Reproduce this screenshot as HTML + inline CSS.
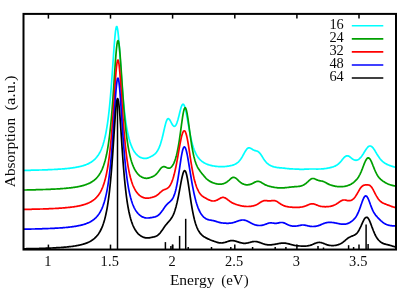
<!DOCTYPE html>
<html><head><meta charset="utf-8"><title>Absorption</title>
<style>html,body{margin:0;padding:0;background:#fff;}svg{display:block;}</style></head>
<body>
<svg width="415" height="291" viewBox="0 0 415 291">
<rect width="415" height="291" fill="#fff"/>
<clipPath id="c"><rect x="24" y="13" width="373" height="237"/></clipPath>
<g clip-path="url(#c)" fill="none" stroke-width="1.7" stroke-linejoin="round">
<path d="M24.0,170.4 L24.5,170.4 L25.0,170.4 L25.5,170.4 L26.0,170.3 L26.5,170.3 L27.0,170.3 L27.5,170.3 L28.0,170.3 L28.5,170.3 L29.0,170.3 L29.5,170.3 L30.0,170.3 L30.5,170.3 L31.0,170.2 L31.5,170.2 L32.0,170.2 L32.5,170.2 L33.0,170.2 L33.5,170.2 L34.0,170.2 L34.5,170.2 L35.0,170.2 L35.5,170.1 L36.0,170.1 L36.5,170.1 L37.0,170.1 L37.5,170.1 L38.0,170.1 L38.5,170.1 L39.0,170.0 L39.5,170.0 L40.0,170.0 L40.5,170.0 L41.0,170.0 L41.5,170.0 L42.0,170.0 L42.5,169.9 L43.0,169.9 L43.5,169.9 L44.0,169.9 L44.5,169.9 L45.0,169.9 L45.5,169.8 L46.0,169.8 L46.5,169.8 L47.0,169.8 L47.5,169.8 L48.0,169.7 L48.5,169.7 L49.0,169.7 L49.5,169.7 L50.0,169.7 L50.5,169.6 L51.0,169.6 L51.5,169.6 L52.0,169.6 L52.5,169.5 L53.0,169.5 L53.5,169.5 L54.0,169.5 L54.5,169.4 L55.0,169.4 L55.5,169.4 L56.0,169.4 L56.5,169.3 L57.0,169.3 L57.5,169.3 L58.0,169.2 L58.5,169.2 L59.0,169.2 L59.5,169.1 L60.0,169.1 L60.5,169.1 L61.0,169.0 L61.5,169.0 L62.0,169.0 L62.5,168.9 L63.0,168.9 L63.5,168.8 L64.0,168.8 L64.5,168.8 L65.0,168.7 L65.5,168.7 L66.0,168.6 L66.5,168.6 L67.0,168.5 L67.5,168.5 L68.0,168.4 L68.5,168.4 L69.0,168.3 L69.5,168.3 L70.0,168.2 L70.5,168.1 L71.0,168.1 L71.5,168.0 L72.0,167.9 L72.5,167.9 L73.0,167.8 L73.5,167.7 L74.0,167.7 L74.5,167.6 L75.0,167.5 L75.5,167.4 L76.0,167.3 L76.5,167.2 L77.0,167.1 L77.5,167.0 L78.0,166.9 L78.5,166.8 L79.0,166.7 L79.5,166.6 L80.0,166.5 L80.5,166.4 L81.0,166.3 L81.5,166.1 L82.0,166.0 L82.5,165.9 L83.0,165.7 L83.5,165.6 L84.0,165.4 L84.5,165.2 L85.0,165.1 L85.5,164.9 L86.0,164.7 L86.5,164.5 L87.0,164.3 L87.5,164.1 L88.0,163.9 L88.5,163.6 L89.0,163.4 L89.5,163.1 L90.0,162.8 L90.5,162.5 L91.0,162.2 L91.5,161.9 L92.0,161.6 L92.5,161.2 L93.0,160.8 L93.5,160.4 L94.0,160.0 L94.5,159.5 L95.0,159.1 L95.5,158.5 L96.0,158.0 L96.5,157.4 L97.0,156.8 L97.5,156.1 L98.0,155.4 L98.5,154.7 L99.0,153.9 L99.5,153.0 L100.0,152.1 L100.5,151.1 L101.0,150.0 L101.5,148.8 L102.0,147.5 L102.5,146.2 L103.0,144.7 L103.5,143.0 L104.0,141.3 L104.5,139.4 L105.0,137.3 L105.5,135.0 L106.0,132.5 L106.5,129.7 L107.0,126.7 L107.5,123.5 L108.0,119.8 L108.5,115.9 L109.0,111.6 L109.5,106.9 L110.0,101.7 L110.5,96.1 L111.0,90.1 L111.5,83.7 L112.0,76.9 L112.5,69.8 L113.0,62.5 L113.5,55.3 L114.0,48.2 L114.5,41.7 L115.0,36.0 L115.5,31.4 L116.0,28.2 L116.5,26.6 L117.0,26.7 L117.5,28.6 L118.0,32.0 L118.5,36.9 L119.0,42.7 L119.5,49.3 L120.0,56.4 L120.5,63.6 L121.0,70.8 L121.5,77.8 L122.0,84.5 L122.5,90.8 L123.0,96.7 L123.5,102.1 L124.0,107.1 L124.5,111.7 L125.0,115.9 L125.5,119.7 L126.0,123.2 L126.5,126.4 L127.0,129.3 L127.5,131.9 L128.0,134.3 L128.5,136.5 L129.0,138.5 L129.5,140.3 L130.0,142.0 L130.5,143.5 L131.0,144.9 L131.5,146.2 L132.0,147.3 L132.5,148.4 L133.0,149.4 L133.5,150.3 L134.0,151.2 L134.5,151.9 L135.0,152.6 L135.5,153.3 L136.0,153.9 L136.5,154.4 L137.0,154.9 L137.5,155.4 L138.0,155.8 L138.5,156.2 L139.0,156.6 L139.5,156.9 L140.0,157.2 L140.5,157.4 L141.0,157.6 L141.5,157.8 L142.0,158.0 L142.5,158.1 L143.0,158.2 L143.5,158.3 L144.0,158.4 L144.5,158.4 L145.0,158.4 L145.5,158.4 L146.0,158.4 L146.5,158.3 L147.0,158.2 L147.5,158.1 L148.0,157.9 L148.5,157.7 L149.0,157.5 L149.5,157.3 L150.0,157.1 L150.5,156.8 L151.0,156.5 L151.5,156.3 L152.0,156.0 L152.5,155.7 L153.0,155.4 L153.5,155.1 L154.0,154.7 L154.5,154.3 L155.0,153.9 L155.5,153.4 L156.0,152.9 L156.5,152.3 L157.0,151.6 L157.5,150.8 L158.0,149.9 L158.5,149.0 L159.0,147.9 L159.5,146.7 L160.0,145.4 L160.5,143.9 L161.0,142.3 L161.5,140.6 L162.0,138.8 L162.5,136.8 L163.0,134.7 L163.5,132.5 L164.0,130.3 L164.5,128.1 L165.0,126.0 L165.5,124.1 L166.0,122.3 L166.5,120.9 L167.0,119.8 L167.5,119.0 L168.0,118.7 L168.5,118.7 L169.0,119.0 L169.5,119.5 L170.0,120.3 L170.5,121.2 L171.0,122.2 L171.5,123.1 L172.0,124.0 L172.5,124.9 L173.0,125.5 L173.5,126.0 L174.0,126.3 L174.5,126.3 L175.0,126.1 L175.5,125.6 L176.0,124.9 L176.5,123.9 L177.0,122.6 L177.5,121.1 L178.0,119.4 L178.5,117.5 L179.0,115.6 L179.5,113.5 L180.0,111.5 L180.5,109.6 L181.0,107.8 L181.5,106.3 L182.0,105.2 L182.5,104.5 L183.0,104.2 L183.5,104.4 L184.0,105.0 L184.5,106.1 L185.0,107.6 L185.5,109.6 L186.0,111.8 L186.5,114.3 L187.0,117.0 L187.5,119.8 L188.0,122.7 L188.5,125.6 L189.0,128.4 L189.5,131.1 L190.0,133.7 L190.5,136.2 L191.0,138.5 L191.5,140.6 L192.0,142.6 L192.5,144.5 L193.0,146.2 L193.5,147.8 L194.0,149.2 L194.5,150.5 L195.0,151.7 L195.5,152.8 L196.0,153.9 L196.5,154.8 L197.0,155.7 L197.5,156.4 L198.0,157.2 L198.5,157.9 L199.0,158.5 L199.5,159.1 L200.0,159.6 L200.5,160.1 L201.0,160.5 L201.5,161.0 L202.0,161.4 L202.5,161.7 L203.0,162.1 L203.5,162.4 L204.0,162.7 L204.5,163.0 L205.0,163.3 L205.5,163.5 L206.0,163.8 L206.5,164.0 L207.0,164.2 L207.5,164.4 L208.0,164.6 L208.5,164.7 L209.0,164.9 L209.5,165.0 L210.0,165.2 L210.5,165.3 L211.0,165.4 L211.5,165.6 L212.0,165.7 L212.5,165.8 L213.0,165.9 L213.5,166.0 L214.0,166.0 L214.5,166.1 L215.0,166.2 L215.5,166.3 L216.0,166.3 L216.5,166.4 L217.0,166.4 L217.5,166.5 L218.0,166.5 L218.5,166.6 L219.0,166.6 L219.5,166.6 L220.0,166.6 L220.5,166.6 L221.0,166.7 L221.5,166.7 L222.0,166.7 L222.5,166.7 L223.0,166.6 L223.5,166.6 L224.0,166.6 L224.5,166.6 L225.0,166.5 L225.5,166.5 L226.0,166.4 L226.5,166.4 L227.0,166.3 L227.5,166.2 L228.0,166.2 L228.5,166.1 L229.0,166.0 L229.5,165.9 L230.0,165.8 L230.5,165.7 L231.0,165.6 L231.5,165.5 L232.0,165.4 L232.5,165.2 L233.0,165.1 L233.5,164.9 L234.0,164.7 L234.5,164.5 L235.0,164.3 L235.5,164.0 L236.0,163.7 L236.5,163.4 L237.0,163.1 L237.5,162.7 L238.0,162.3 L238.5,161.8 L239.0,161.3 L239.5,160.7 L240.0,160.1 L240.5,159.5 L241.0,158.8 L241.5,158.0 L242.0,157.2 L242.5,156.3 L243.0,155.4 L243.5,154.5 L244.0,153.6 L244.5,152.7 L245.0,151.8 L245.5,151.0 L246.0,150.2 L246.5,149.5 L247.0,148.9 L247.5,148.4 L248.0,148.1 L248.5,147.9 L249.0,147.8 L249.5,147.9 L250.0,148.0 L250.5,148.2 L251.0,148.5 L251.5,148.8 L252.0,149.1 L252.5,149.4 L253.0,149.7 L253.5,150.0 L254.0,150.2 L254.5,150.4 L255.0,150.6 L255.5,150.7 L256.0,150.8 L256.5,151.0 L257.0,151.1 L257.5,151.3 L258.0,151.6 L258.5,151.9 L259.0,152.4 L259.5,152.9 L260.0,153.4 L260.5,154.1 L261.0,154.8 L261.5,155.5 L262.0,156.3 L262.5,157.1 L263.0,157.9 L263.5,158.7 L264.0,159.4 L264.5,160.2 L265.0,160.8 L265.5,161.5 L266.0,162.0 L266.5,162.6 L267.0,163.1 L267.5,163.5 L268.0,163.9 L268.5,164.3 L269.0,164.7 L269.5,165.0 L270.0,165.3 L270.5,165.6 L271.0,165.8 L271.5,166.0 L272.0,166.2 L272.5,166.4 L273.0,166.6 L273.5,166.7 L274.0,166.9 L274.5,167.0 L275.0,167.1 L275.5,167.2 L276.0,167.3 L276.5,167.4 L277.0,167.5 L277.5,167.6 L278.0,167.6 L278.5,167.7 L279.0,167.7 L279.5,167.8 L280.0,167.8 L280.5,167.8 L281.0,167.9 L281.5,167.9 L282.0,168.0 L282.5,168.0 L283.0,168.1 L283.5,168.1 L284.0,168.2 L284.5,168.2 L285.0,168.3 L285.5,168.4 L286.0,168.4 L286.5,168.5 L287.0,168.5 L287.5,168.6 L288.0,168.6 L288.5,168.7 L289.0,168.7 L289.5,168.8 L290.0,168.8 L290.5,168.8 L291.0,168.9 L291.5,168.9 L292.0,168.9 L292.5,168.9 L293.0,169.0 L293.5,169.0 L294.0,169.0 L294.5,169.0 L295.0,169.1 L295.5,169.1 L296.0,169.1 L296.5,169.1 L297.0,169.2 L297.5,169.2 L298.0,169.2 L298.5,169.2 L299.0,169.2 L299.5,169.3 L300.0,169.3 L300.5,169.3 L301.0,169.3 L301.5,169.3 L302.0,169.3 L302.5,169.3 L303.0,169.3 L303.5,169.3 L304.0,169.3 L304.5,169.2 L305.0,169.2 L305.5,169.2 L306.0,169.2 L306.5,169.2 L307.0,169.1 L307.5,169.1 L308.0,169.1 L308.5,169.1 L309.0,169.0 L309.5,169.0 L310.0,169.0 L310.5,169.0 L311.0,169.0 L311.5,169.0 L312.0,169.0 L312.5,169.0 L313.0,169.0 L313.5,169.0 L314.0,169.0 L314.5,169.0 L315.0,169.0 L315.5,169.0 L316.0,169.0 L316.5,169.1 L317.0,169.1 L317.5,169.1 L318.0,169.1 L318.5,169.0 L319.0,169.0 L319.5,169.0 L320.0,169.0 L320.5,169.0 L321.0,169.0 L321.5,168.9 L322.0,168.9 L322.5,168.9 L323.0,168.8 L323.5,168.8 L324.0,168.7 L324.5,168.7 L325.0,168.6 L325.5,168.5 L326.0,168.5 L326.5,168.4 L327.0,168.3 L327.5,168.2 L328.0,168.1 L328.5,168.0 L329.0,167.9 L329.5,167.8 L330.0,167.7 L330.5,167.6 L331.0,167.4 L331.5,167.3 L332.0,167.2 L332.5,167.0 L333.0,166.9 L333.5,166.7 L334.0,166.5 L334.5,166.3 L335.0,166.1 L335.5,165.9 L336.0,165.6 L336.5,165.3 L337.0,165.0 L337.5,164.6 L338.0,164.3 L338.5,163.9 L339.0,163.4 L339.5,162.9 L340.0,162.4 L340.5,161.9 L341.0,161.3 L341.5,160.7 L342.0,160.0 L342.5,159.4 L343.0,158.8 L343.5,158.2 L344.0,157.7 L344.5,157.2 L345.0,156.7 L345.5,156.4 L346.0,156.1 L346.5,155.9 L347.0,155.8 L347.5,155.8 L348.0,155.9 L348.5,156.1 L349.0,156.3 L349.5,156.6 L350.0,157.0 L350.5,157.4 L351.0,157.8 L351.5,158.2 L352.0,158.6 L352.5,159.0 L353.0,159.3 L353.5,159.6 L354.0,159.8 L354.5,160.0 L355.0,160.2 L355.5,160.2 L356.0,160.3 L356.5,160.2 L357.0,160.1 L357.5,160.0 L358.0,159.7 L358.5,159.5 L359.0,159.1 L359.5,158.7 L360.0,158.2 L360.5,157.7 L361.0,157.1 L361.5,156.5 L362.0,155.8 L362.5,155.0 L363.0,154.3 L363.5,153.5 L364.0,152.6 L364.5,151.8 L365.0,151.0 L365.5,150.2 L366.0,149.4 L366.5,148.7 L367.0,148.0 L367.5,147.5 L368.0,146.9 L368.5,146.5 L369.0,146.2 L369.5,146.0 L370.0,146.0 L370.5,146.0 L371.0,146.2 L371.5,146.5 L372.0,146.8 L372.5,147.3 L373.0,147.9 L373.5,148.5 L374.0,149.3 L374.5,150.0 L375.0,150.8 L375.5,151.7 L376.0,152.5 L376.5,153.4 L377.0,154.2 L377.5,155.0 L378.0,155.8 L378.5,156.6 L379.0,157.3 L379.5,158.0 L380.0,158.7 L380.5,159.3 L381.0,159.9 L381.5,160.4 L382.0,160.9 L382.5,161.4 L383.0,161.8 L383.5,162.2 L384.0,162.6 L384.5,162.9 L385.0,163.3 L385.5,163.6 L386.0,163.8 L386.5,164.1 L387.0,164.4 L387.5,164.6 L388.0,164.8 L388.5,165.0 L389.0,165.2 L389.5,165.4 L390.0,165.6 L390.5,165.8 L391.0,166.0 L391.5,166.1 L392.0,166.3 L392.5,166.4 L393.0,166.6 L393.5,166.7 L394.0,166.9 L394.5,167.0 L395.0,167.1 L395.5,167.3 L396.0,167.4 L396.5,167.5 L397.0,167.6" stroke="#00ffff"/>
<path d="M24.0,190.0 L24.5,190.0 L25.0,190.0 L25.5,190.0 L26.0,190.0 L26.5,190.0 L27.0,189.9 L27.5,189.9 L28.0,189.9 L28.5,189.9 L29.0,189.9 L29.5,189.9 L30.0,189.9 L30.5,189.9 L31.0,189.9 L31.5,189.9 L32.0,189.8 L32.5,189.8 L33.0,189.8 L33.5,189.8 L34.0,189.8 L34.5,189.8 L35.0,189.8 L35.5,189.8 L36.0,189.7 L36.5,189.7 L37.0,189.7 L37.5,189.7 L38.0,189.7 L38.5,189.7 L39.0,189.7 L39.5,189.7 L40.0,189.6 L40.5,189.6 L41.0,189.6 L41.5,189.6 L42.0,189.6 L42.5,189.6 L43.0,189.5 L43.5,189.5 L44.0,189.5 L44.5,189.5 L45.0,189.5 L45.5,189.5 L46.0,189.4 L46.5,189.4 L47.0,189.4 L47.5,189.4 L48.0,189.4 L48.5,189.4 L49.0,189.3 L49.5,189.3 L50.0,189.3 L50.5,189.3 L51.0,189.2 L51.5,189.2 L52.0,189.2 L52.5,189.2 L53.0,189.2 L53.5,189.1 L54.0,189.1 L54.5,189.1 L55.0,189.1 L55.5,189.0 L56.0,189.0 L56.5,189.0 L57.0,188.9 L57.5,188.9 L58.0,188.9 L58.5,188.9 L59.0,188.8 L59.5,188.8 L60.0,188.8 L60.5,188.7 L61.0,188.7 L61.5,188.7 L62.0,188.6 L62.5,188.6 L63.0,188.5 L63.5,188.5 L64.0,188.5 L64.5,188.4 L65.0,188.4 L65.5,188.3 L66.0,188.3 L66.5,188.2 L67.0,188.2 L67.5,188.2 L68.0,188.1 L68.5,188.0 L69.0,188.0 L69.5,187.9 L70.0,187.9 L70.5,187.8 L71.0,187.8 L71.5,187.7 L72.0,187.6 L72.5,187.6 L73.0,187.5 L73.5,187.4 L74.0,187.4 L74.5,187.3 L75.0,187.2 L75.5,187.1 L76.0,187.1 L76.5,187.0 L77.0,186.9 L77.5,186.8 L78.0,186.7 L78.5,186.6 L79.0,186.5 L79.5,186.4 L80.0,186.3 L80.5,186.2 L81.0,186.1 L81.5,185.9 L82.0,185.8 L82.5,185.7 L83.0,185.6 L83.5,185.4 L84.0,185.3 L84.5,185.1 L85.0,185.0 L85.5,184.8 L86.0,184.6 L86.5,184.4 L87.0,184.2 L87.5,184.0 L88.0,183.8 L88.5,183.6 L89.0,183.4 L89.5,183.2 L90.0,182.9 L90.5,182.6 L91.0,182.4 L91.5,182.1 L92.0,181.8 L92.5,181.4 L93.0,181.1 L93.5,180.7 L94.0,180.4 L94.5,179.9 L95.0,179.5 L95.5,179.1 L96.0,178.6 L96.5,178.1 L97.0,177.5 L97.5,177.0 L98.0,176.3 L98.5,175.7 L99.0,175.0 L99.5,174.2 L100.0,173.4 L100.5,172.6 L101.0,171.6 L101.5,170.6 L102.0,169.6 L102.5,168.4 L103.0,167.1 L103.5,165.8 L104.0,164.3 L104.5,162.7 L105.0,161.0 L105.5,159.1 L106.0,157.0 L106.5,154.8 L107.0,152.3 L107.5,149.6 L108.0,146.7 L108.5,143.4 L109.0,139.9 L109.5,136.0 L110.0,131.8 L110.5,127.1 L111.0,122.0 L111.5,116.5 L112.0,110.5 L112.5,104.1 L113.0,97.3 L113.5,90.1 L114.0,82.6 L114.5,75.0 L115.0,67.5 L115.5,60.4 L116.0,53.9 L116.5,48.4 L117.0,44.2 L117.5,41.5 L118.0,40.6 L118.5,41.5 L119.0,44.1 L119.5,48.3 L120.0,53.8 L120.5,60.2 L121.0,67.3 L121.5,74.7 L122.0,82.3 L122.5,89.7 L123.0,96.9 L123.5,103.6 L124.0,110.0 L124.5,116.0 L125.0,121.4 L125.5,126.5 L126.0,131.1 L126.5,135.3 L127.0,139.1 L127.5,142.6 L128.0,145.8 L128.5,148.7 L129.0,151.3 L129.5,153.7 L130.0,155.9 L130.5,157.9 L131.0,159.8 L131.5,161.5 L132.0,163.0 L132.5,164.4 L133.0,165.7 L133.5,166.9 L134.0,168.0 L134.5,169.0 L135.0,169.9 L135.5,170.8 L136.0,171.6 L136.5,172.3 L137.0,172.9 L137.5,173.6 L138.0,174.1 L138.5,174.6 L139.0,175.1 L139.5,175.6 L140.0,176.0 L140.5,176.3 L141.0,176.6 L141.5,176.9 L142.0,177.2 L142.5,177.4 L143.0,177.6 L143.5,177.8 L144.0,178.0 L144.5,178.1 L145.0,178.2 L145.5,178.2 L146.0,178.3 L146.5,178.3 L147.0,178.3 L147.5,178.2 L148.0,178.2 L148.5,178.1 L149.0,177.9 L149.5,177.8 L150.0,177.6 L150.5,177.5 L151.0,177.3 L151.5,177.1 L152.0,176.9 L152.5,176.7 L153.0,176.4 L153.5,176.2 L154.0,175.9 L154.5,175.5 L155.0,175.2 L155.5,174.8 L156.0,174.3 L156.5,173.8 L157.0,173.3 L157.5,172.7 L158.0,172.1 L158.5,171.4 L159.0,170.7 L159.5,170.1 L160.0,169.4 L160.5,168.8 L161.0,168.2 L161.5,167.7 L162.0,167.3 L162.5,167.0 L163.0,166.8 L163.5,166.7 L164.0,166.6 L164.5,166.7 L165.0,166.9 L165.5,167.1 L166.0,167.3 L166.5,167.5 L167.0,167.8 L167.5,168.0 L168.0,168.1 L168.5,168.2 L169.0,168.2 L169.5,168.1 L170.0,168.0 L170.5,167.7 L171.0,167.3 L171.5,166.9 L172.0,166.3 L172.5,165.6 L173.0,164.8 L173.5,163.9 L174.0,162.9 L174.5,161.7 L175.0,160.3 L175.5,158.8 L176.0,157.1 L176.5,155.2 L177.0,153.1 L177.5,150.7 L178.0,148.2 L178.5,145.4 L179.0,142.3 L179.5,139.1 L180.0,135.7 L180.5,132.1 L181.0,128.4 L181.5,124.7 L182.0,121.1 L182.5,117.7 L183.0,114.5 L183.5,111.9 L184.0,109.8 L184.5,108.4 L185.0,107.7 L185.5,107.9 L186.0,108.9 L186.5,110.6 L187.0,112.9 L187.5,115.8 L188.0,119.0 L188.5,122.6 L189.0,126.2 L189.5,130.0 L190.0,133.7 L190.5,137.3 L191.0,140.7 L191.5,144.0 L192.0,147.0 L192.5,149.8 L193.0,152.4 L193.5,154.8 L194.0,157.0 L194.5,158.9 L195.0,160.7 L195.5,162.2 L196.0,163.6 L196.5,164.9 L197.0,166.0 L197.5,167.1 L198.0,168.0 L198.5,168.8 L199.0,169.6 L199.5,170.3 L200.0,171.0 L200.5,171.7 L201.0,172.3 L201.5,173.0 L202.0,173.6 L202.5,174.2 L203.0,174.8 L203.5,175.4 L204.0,176.0 L204.5,176.6 L205.0,177.2 L205.5,177.7 L206.0,178.3 L206.5,178.8 L207.0,179.2 L207.5,179.6 L208.0,180.0 L208.5,180.4 L209.0,180.8 L209.5,181.1 L210.0,181.4 L210.5,181.6 L211.0,181.9 L211.5,182.1 L212.0,182.4 L212.5,182.6 L213.0,182.8 L213.5,183.0 L214.0,183.1 L214.5,183.3 L215.0,183.5 L215.5,183.6 L216.0,183.7 L216.5,183.8 L217.0,183.9 L217.5,184.0 L218.0,184.1 L218.5,184.1 L219.0,184.2 L219.5,184.2 L220.0,184.2 L220.5,184.2 L221.0,184.1 L221.5,184.1 L222.0,184.0 L222.5,183.9 L223.0,183.8 L223.5,183.7 L224.0,183.5 L224.5,183.3 L225.0,183.1 L225.5,182.8 L226.0,182.6 L226.5,182.2 L227.0,181.9 L227.5,181.5 L228.0,181.1 L228.5,180.7 L229.0,180.3 L229.5,179.8 L230.0,179.4 L230.5,178.9 L231.0,178.5 L231.5,178.1 L232.0,177.8 L232.5,177.6 L233.0,177.4 L233.5,177.4 L234.0,177.4 L234.5,177.5 L235.0,177.7 L235.5,178.0 L236.0,178.3 L236.5,178.7 L237.0,179.2 L237.5,179.6 L238.0,180.1 L238.5,180.6 L239.0,181.1 L239.5,181.5 L240.0,182.0 L240.5,182.4 L241.0,182.7 L241.5,183.1 L242.0,183.4 L242.5,183.7 L243.0,183.9 L243.5,184.1 L244.0,184.3 L244.5,184.5 L245.0,184.6 L245.5,184.7 L246.0,184.8 L246.5,184.8 L247.0,184.8 L247.5,184.8 L248.0,184.8 L248.5,184.7 L249.0,184.7 L249.5,184.6 L250.0,184.4 L250.5,184.3 L251.0,184.1 L251.5,183.9 L252.0,183.7 L252.5,183.4 L253.0,183.2 L253.5,182.9 L254.0,182.6 L254.5,182.4 L255.0,182.1 L255.5,181.9 L256.0,181.7 L256.5,181.5 L257.0,181.4 L257.5,181.4 L258.0,181.3 L258.5,181.4 L259.0,181.5 L259.5,181.6 L260.0,181.8 L260.5,182.0 L261.0,182.3 L261.5,182.6 L262.0,182.9 L262.5,183.2 L263.0,183.5 L263.5,183.8 L264.0,184.1 L264.5,184.4 L265.0,184.7 L265.5,184.9 L266.0,185.1 L266.5,185.3 L267.0,185.5 L267.5,185.7 L268.0,185.9 L268.5,186.0 L269.0,186.2 L269.5,186.3 L270.0,186.4 L270.5,186.5 L271.0,186.7 L271.5,186.8 L272.0,186.9 L272.5,187.0 L273.0,187.1 L273.5,187.2 L274.0,187.3 L274.5,187.4 L275.0,187.5 L275.5,187.5 L276.0,187.6 L276.5,187.7 L277.0,187.7 L277.5,187.8 L278.0,187.8 L278.5,187.8 L279.0,187.9 L279.5,187.9 L280.0,187.9 L280.5,187.9 L281.0,187.9 L281.5,187.9 L282.0,187.9 L282.5,187.9 L283.0,187.9 L283.5,187.8 L284.0,187.8 L284.5,187.8 L285.0,187.7 L285.5,187.7 L286.0,187.6 L286.5,187.6 L287.0,187.5 L287.5,187.5 L288.0,187.4 L288.5,187.4 L289.0,187.3 L289.5,187.2 L290.0,187.2 L290.5,187.1 L291.0,187.1 L291.5,187.0 L292.0,186.9 L292.5,186.9 L293.0,186.9 L293.5,186.8 L294.0,186.8 L294.5,186.7 L295.0,186.7 L295.5,186.7 L296.0,186.6 L296.5,186.6 L297.0,186.6 L297.5,186.5 L298.0,186.5 L298.5,186.4 L299.0,186.4 L299.5,186.3 L300.0,186.2 L300.5,186.1 L301.0,186.0 L301.5,185.8 L302.0,185.7 L302.5,185.5 L303.0,185.3 L303.5,185.0 L304.0,184.7 L304.5,184.4 L305.0,184.1 L305.5,183.7 L306.0,183.4 L306.5,182.9 L307.0,182.5 L307.5,182.0 L308.0,181.6 L308.5,181.1 L309.0,180.6 L309.5,180.2 L310.0,179.8 L310.5,179.4 L311.0,179.1 L311.5,178.8 L312.0,178.6 L312.5,178.5 L313.0,178.5 L313.5,178.5 L314.0,178.6 L314.5,178.8 L315.0,179.0 L315.5,179.2 L316.0,179.4 L316.5,179.7 L317.0,179.9 L317.5,180.1 L318.0,180.3 L318.5,180.5 L319.0,180.6 L319.5,180.7 L320.0,180.8 L320.5,180.9 L321.0,181.0 L321.5,181.0 L322.0,181.1 L322.5,181.2 L323.0,181.4 L323.5,181.5 L324.0,181.8 L324.5,182.0 L325.0,182.2 L325.5,182.5 L326.0,182.8 L326.5,183.1 L327.0,183.4 L327.5,183.6 L328.0,183.9 L328.5,184.1 L329.0,184.4 L329.5,184.6 L330.0,184.8 L330.5,185.0 L331.0,185.1 L331.5,185.3 L332.0,185.4 L332.5,185.6 L333.0,185.7 L333.5,185.8 L334.0,185.9 L334.5,186.1 L335.0,186.2 L335.5,186.3 L336.0,186.4 L336.5,186.4 L337.0,186.5 L337.5,186.6 L338.0,186.6 L338.5,186.7 L339.0,186.7 L339.5,186.7 L340.0,186.7 L340.5,186.7 L341.0,186.7 L341.5,186.7 L342.0,186.7 L342.5,186.6 L343.0,186.6 L343.5,186.5 L344.0,186.5 L344.5,186.4 L345.0,186.3 L345.5,186.2 L346.0,186.1 L346.5,186.0 L347.0,185.8 L347.5,185.7 L348.0,185.5 L348.5,185.3 L349.0,185.1 L349.5,184.9 L350.0,184.7 L350.5,184.4 L351.0,184.2 L351.5,183.9 L352.0,183.5 L352.5,183.2 L353.0,182.9 L353.5,182.5 L354.0,182.1 L354.5,181.7 L355.0,181.2 L355.5,180.7 L356.0,180.2 L356.5,179.7 L357.0,179.1 L357.5,178.4 L358.0,177.7 L358.5,177.0 L359.0,176.1 L359.5,175.2 L360.0,174.3 L360.5,173.2 L361.0,172.1 L361.5,170.9 L362.0,169.7 L362.5,168.4 L363.0,167.0 L363.5,165.7 L364.0,164.4 L364.5,163.2 L365.0,162.0 L365.5,160.9 L366.0,160.0 L366.5,159.2 L367.0,158.5 L367.5,158.1 L368.0,157.9 L368.5,157.9 L369.0,158.1 L369.5,158.5 L370.0,159.1 L370.5,159.9 L371.0,160.8 L371.5,161.9 L372.0,163.1 L372.5,164.3 L373.0,165.6 L373.5,166.8 L374.0,168.1 L374.5,169.4 L375.0,170.5 L375.5,171.7 L376.0,172.7 L376.5,173.7 L377.0,174.6 L377.5,175.5 L378.0,176.2 L378.5,176.9 L379.0,177.6 L379.5,178.1 L380.0,178.7 L380.5,179.2 L381.0,179.6 L381.5,180.0 L382.0,180.4 L382.5,180.8 L383.0,181.2 L383.5,181.5 L384.0,181.8 L384.5,182.1 L385.0,182.4 L385.5,182.7 L386.0,183.0 L386.5,183.3 L387.0,183.5 L387.5,183.7 L388.0,184.0 L388.5,184.2 L389.0,184.4 L389.5,184.5 L390.0,184.7 L390.5,184.9 L391.0,185.0 L391.5,185.2 L392.0,185.3 L392.5,185.4 L393.0,185.6 L393.5,185.7 L394.0,185.8 L394.5,185.9 L395.0,186.0 L395.5,186.1 L396.0,186.2 L396.5,186.3 L397.0,186.4" stroke="#00a000"/>
<path d="M24.0,209.4 L24.5,209.4 L25.0,209.4 L25.5,209.4 L26.0,209.4 L26.5,209.4 L27.0,209.3 L27.5,209.3 L28.0,209.3 L28.5,209.3 L29.0,209.3 L29.5,209.3 L30.0,209.3 L30.5,209.3 L31.0,209.3 L31.5,209.3 L32.0,209.2 L32.5,209.2 L33.0,209.2 L33.5,209.2 L34.0,209.2 L34.5,209.2 L35.0,209.2 L35.5,209.2 L36.0,209.2 L36.5,209.1 L37.0,209.1 L37.5,209.1 L38.0,209.1 L38.5,209.1 L39.0,209.1 L39.5,209.1 L40.0,209.0 L40.5,209.0 L41.0,209.0 L41.5,209.0 L42.0,209.0 L42.5,209.0 L43.0,209.0 L43.5,208.9 L44.0,208.9 L44.5,208.9 L45.0,208.9 L45.5,208.9 L46.0,208.8 L46.5,208.8 L47.0,208.8 L47.5,208.8 L48.0,208.8 L48.5,208.8 L49.0,208.7 L49.5,208.7 L50.0,208.7 L50.5,208.7 L51.0,208.6 L51.5,208.6 L52.0,208.6 L52.5,208.6 L53.0,208.6 L53.5,208.5 L54.0,208.5 L54.5,208.5 L55.0,208.5 L55.5,208.4 L56.0,208.4 L56.5,208.4 L57.0,208.3 L57.5,208.3 L58.0,208.3 L58.5,208.3 L59.0,208.2 L59.5,208.2 L60.0,208.2 L60.5,208.1 L61.0,208.1 L61.5,208.1 L62.0,208.0 L62.5,208.0 L63.0,207.9 L63.5,207.9 L64.0,207.9 L64.5,207.8 L65.0,207.8 L65.5,207.7 L66.0,207.7 L66.5,207.6 L67.0,207.6 L67.5,207.5 L68.0,207.5 L68.5,207.4 L69.0,207.4 L69.5,207.3 L70.0,207.3 L70.5,207.2 L71.0,207.2 L71.5,207.1 L72.0,207.0 L72.5,207.0 L73.0,206.9 L73.5,206.8 L74.0,206.8 L74.5,206.7 L75.0,206.6 L75.5,206.5 L76.0,206.5 L76.5,206.4 L77.0,206.3 L77.5,206.2 L78.0,206.1 L78.5,206.0 L79.0,205.9 L79.5,205.8 L80.0,205.7 L80.5,205.6 L81.0,205.5 L81.5,205.3 L82.0,205.2 L82.5,205.1 L83.0,204.9 L83.5,204.8 L84.0,204.6 L84.5,204.5 L85.0,204.3 L85.5,204.2 L86.0,204.0 L86.5,203.8 L87.0,203.6 L87.5,203.4 L88.0,203.2 L88.5,203.0 L89.0,202.8 L89.5,202.5 L90.0,202.3 L90.5,202.0 L91.0,201.7 L91.5,201.4 L92.0,201.1 L92.5,200.8 L93.0,200.4 L93.5,200.1 L94.0,199.7 L94.5,199.3 L95.0,198.8 L95.5,198.4 L96.0,197.9 L96.5,197.4 L97.0,196.8 L97.5,196.2 L98.0,195.6 L98.5,195.0 L99.0,194.2 L99.5,193.5 L100.0,192.7 L100.5,191.8 L101.0,190.8 L101.5,189.8 L102.0,188.7 L102.5,187.6 L103.0,186.3 L103.5,184.9 L104.0,183.4 L104.5,181.8 L105.0,180.0 L105.5,178.1 L106.0,176.0 L106.5,173.7 L107.0,171.2 L107.5,168.5 L108.0,165.5 L108.5,162.2 L109.0,158.6 L109.5,154.6 L110.0,150.3 L110.5,145.5 L111.0,140.4 L111.5,134.8 L112.0,128.7 L112.5,122.2 L113.0,115.3 L113.5,108.0 L114.0,100.5 L114.5,92.9 L115.0,85.5 L115.5,78.5 L116.0,72.1 L116.5,66.8 L117.0,62.9 L117.5,60.6 L118.0,60.0 L118.5,61.3 L119.0,64.2 L119.5,68.7 L120.0,74.4 L120.5,81.0 L121.0,88.2 L121.5,95.7 L122.0,103.2 L122.5,110.6 L123.0,117.7 L123.5,124.4 L124.0,130.7 L124.5,136.5 L125.0,141.9 L125.5,146.9 L126.0,151.4 L126.5,155.5 L127.0,159.3 L127.5,162.7 L128.0,165.9 L128.5,168.7 L129.0,171.3 L129.5,173.7 L130.0,175.8 L130.5,177.8 L131.0,179.6 L131.5,181.3 L132.0,182.8 L132.5,184.2 L133.0,185.5 L133.5,186.6 L134.0,187.7 L134.5,188.7 L135.0,189.6 L135.5,190.5 L136.0,191.3 L136.5,192.0 L137.0,192.6 L137.5,193.2 L138.0,193.8 L138.5,194.3 L139.0,194.8 L139.5,195.3 L140.0,195.7 L140.5,196.0 L141.0,196.4 L141.5,196.7 L142.0,196.9 L142.5,197.2 L143.0,197.4 L143.5,197.6 L144.0,197.8 L144.5,197.9 L145.0,198.0 L145.5,198.1 L146.0,198.2 L146.5,198.2 L147.0,198.2 L147.5,198.2 L148.0,198.2 L148.5,198.1 L149.0,198.0 L149.5,198.0 L150.0,197.9 L150.5,197.7 L151.0,197.6 L151.5,197.5 L152.0,197.4 L152.5,197.2 L153.0,197.1 L153.5,197.0 L154.0,196.8 L154.5,196.6 L155.0,196.4 L155.5,196.2 L156.0,195.9 L156.5,195.6 L157.0,195.3 L157.5,194.9 L158.0,194.5 L158.5,194.1 L159.0,193.6 L159.5,193.2 L160.0,192.7 L160.5,192.2 L161.0,191.8 L161.5,191.3 L162.0,191.0 L162.5,190.6 L163.0,190.3 L163.5,190.0 L164.0,189.8 L164.5,189.5 L165.0,189.4 L165.5,189.2 L166.0,189.0 L166.5,188.8 L167.0,188.5 L167.5,188.2 L168.0,187.8 L168.5,187.4 L169.0,186.9 L169.5,186.3 L170.0,185.5 L170.5,184.7 L171.0,183.7 L171.5,182.6 L172.0,181.4 L172.5,180.1 L173.0,178.6 L173.5,176.9 L174.0,175.1 L174.5,173.1 L175.0,171.0 L175.5,168.7 L176.0,166.3 L176.5,163.8 L177.0,161.1 L177.5,158.3 L178.0,155.5 L178.5,152.6 L179.0,149.7 L179.5,146.9 L180.0,144.1 L180.5,141.5 L181.0,139.1 L181.5,136.9 L182.0,134.9 L182.5,133.3 L183.0,132.1 L183.5,131.2 L184.0,130.8 L184.5,130.8 L185.0,131.2 L185.5,132.2 L186.0,133.5 L186.5,135.3 L187.0,137.4 L187.5,139.9 L188.0,142.7 L188.5,145.7 L189.0,148.9 L189.5,152.2 L190.0,155.6 L190.5,158.9 L191.0,162.1 L191.5,165.2 L192.0,168.1 L192.5,170.9 L193.0,173.5 L193.5,175.9 L194.0,178.2 L194.5,180.2 L195.0,182.1 L195.5,183.8 L196.0,185.3 L196.5,186.7 L197.0,188.0 L197.5,189.2 L198.0,190.2 L198.5,191.2 L199.0,192.1 L199.5,192.9 L200.0,193.6 L200.5,194.2 L201.0,194.8 L201.5,195.3 L202.0,195.8 L202.5,196.2 L203.0,196.6 L203.5,196.9 L204.0,197.2 L204.5,197.5 L205.0,197.8 L205.5,198.1 L206.0,198.3 L206.5,198.6 L207.0,198.9 L207.5,199.2 L208.0,199.4 L208.5,199.7 L209.0,199.9 L209.5,200.1 L210.0,200.3 L210.5,200.5 L211.0,200.7 L211.5,200.8 L212.0,200.9 L212.5,201.0 L213.0,201.0 L213.5,201.0 L214.0,201.0 L214.5,200.9 L215.0,200.8 L215.5,200.7 L216.0,200.5 L216.5,200.3 L217.0,200.1 L217.5,199.9 L218.0,199.6 L218.5,199.3 L219.0,199.0 L219.5,198.7 L220.0,198.4 L220.5,198.1 L221.0,197.9 L221.5,197.7 L222.0,197.5 L222.5,197.4 L223.0,197.4 L223.5,197.4 L224.0,197.5 L224.5,197.7 L225.0,197.9 L225.5,198.1 L226.0,198.4 L226.5,198.7 L227.0,199.1 L227.5,199.5 L228.0,199.9 L228.5,200.2 L229.0,200.6 L229.5,201.0 L230.0,201.4 L230.5,201.7 L231.0,202.1 L231.5,202.4 L232.0,202.7 L232.5,202.9 L233.0,203.2 L233.5,203.4 L234.0,203.6 L234.5,203.8 L235.0,204.0 L235.5,204.2 L236.0,204.4 L236.5,204.5 L237.0,204.7 L237.5,204.9 L238.0,205.0 L238.5,205.1 L239.0,205.3 L239.5,205.4 L240.0,205.5 L240.5,205.7 L241.0,205.8 L241.5,205.9 L242.0,206.0 L242.5,206.1 L243.0,206.1 L243.5,206.2 L244.0,206.3 L244.5,206.3 L245.0,206.4 L245.5,206.4 L246.0,206.4 L246.5,206.5 L247.0,206.5 L247.5,206.5 L248.0,206.5 L248.5,206.5 L249.0,206.4 L249.5,206.4 L250.0,206.4 L250.5,206.3 L251.0,206.3 L251.5,206.2 L252.0,206.1 L252.5,206.0 L253.0,205.9 L253.5,205.8 L254.0,205.7 L254.5,205.5 L255.0,205.3 L255.5,205.2 L256.0,205.0 L256.5,204.7 L257.0,204.5 L257.5,204.2 L258.0,203.9 L258.5,203.6 L259.0,203.3 L259.5,203.0 L260.0,202.6 L260.5,202.3 L261.0,202.0 L261.5,201.7 L262.0,201.4 L262.5,201.2 L263.0,201.0 L263.5,200.8 L264.0,200.7 L264.5,200.6 L265.0,200.6 L265.5,200.6 L266.0,200.6 L266.5,200.7 L267.0,200.7 L267.5,200.8 L268.0,200.8 L268.5,200.9 L269.0,200.9 L269.5,200.9 L270.0,200.9 L270.5,200.8 L271.0,200.8 L271.5,200.7 L272.0,200.7 L272.5,200.6 L273.0,200.6 L273.5,200.5 L274.0,200.6 L274.5,200.6 L275.0,200.7 L275.5,200.9 L276.0,201.0 L276.5,201.3 L277.0,201.5 L277.5,201.8 L278.0,202.2 L278.5,202.5 L279.0,202.9 L279.5,203.2 L280.0,203.6 L280.5,203.9 L281.0,204.2 L281.5,204.5 L282.0,204.8 L282.5,205.1 L283.0,205.3 L283.5,205.5 L284.0,205.8 L284.5,205.9 L285.0,206.1 L285.5,206.3 L286.0,206.4 L286.5,206.5 L287.0,206.6 L287.5,206.7 L288.0,206.8 L288.5,206.9 L289.0,207.0 L289.5,207.0 L290.0,207.1 L290.5,207.1 L291.0,207.2 L291.5,207.2 L292.0,207.2 L292.5,207.3 L293.0,207.3 L293.5,207.3 L294.0,207.3 L294.5,207.4 L295.0,207.4 L295.5,207.4 L296.0,207.4 L296.5,207.4 L297.0,207.4 L297.5,207.4 L298.0,207.4 L298.5,207.4 L299.0,207.3 L299.5,207.3 L300.0,207.2 L300.5,207.2 L301.0,207.1 L301.5,207.0 L302.0,207.0 L302.5,206.9 L303.0,206.7 L303.5,206.6 L304.0,206.5 L304.5,206.3 L305.0,206.2 L305.5,206.0 L306.0,205.8 L306.5,205.6 L307.0,205.4 L307.5,205.2 L308.0,204.9 L308.5,204.7 L309.0,204.5 L309.5,204.3 L310.0,204.2 L310.5,204.0 L311.0,203.9 L311.5,203.8 L312.0,203.8 L312.5,203.8 L313.0,203.8 L313.5,203.9 L314.0,204.0 L314.5,204.2 L315.0,204.3 L315.5,204.5 L316.0,204.7 L316.5,204.9 L317.0,205.1 L317.5,205.3 L318.0,205.5 L318.5,205.7 L319.0,205.9 L319.5,206.0 L320.0,206.2 L320.5,206.3 L321.0,206.4 L321.5,206.5 L322.0,206.5 L322.5,206.6 L323.0,206.7 L323.5,206.7 L324.0,206.7 L324.5,206.7 L325.0,206.8 L325.5,206.8 L326.0,206.7 L326.5,206.7 L327.0,206.7 L327.5,206.7 L328.0,206.6 L328.5,206.6 L329.0,206.5 L329.5,206.5 L330.0,206.4 L330.5,206.3 L331.0,206.2 L331.5,206.1 L332.0,205.9 L332.5,205.8 L333.0,205.6 L333.5,205.4 L334.0,205.2 L334.5,205.0 L335.0,204.8 L335.5,204.5 L336.0,204.3 L336.5,204.0 L337.0,203.6 L337.5,203.3 L338.0,203.0 L338.5,202.6 L339.0,202.3 L339.5,201.9 L340.0,201.6 L340.5,201.3 L341.0,200.9 L341.5,200.7 L342.0,200.4 L342.5,200.2 L343.0,200.1 L343.5,200.0 L344.0,200.0 L344.5,200.0 L345.0,200.0 L345.5,200.1 L346.0,200.2 L346.5,200.3 L347.0,200.5 L347.5,200.6 L348.0,200.6 L348.5,200.7 L349.0,200.7 L349.5,200.7 L350.0,200.7 L350.5,200.5 L351.0,200.4 L351.5,200.2 L352.0,199.9 L352.5,199.6 L353.0,199.2 L353.5,198.8 L354.0,198.3 L354.5,197.7 L355.0,197.1 L355.5,196.4 L356.0,195.6 L356.5,194.8 L357.0,194.0 L357.5,193.1 L358.0,192.2 L358.5,191.4 L359.0,190.5 L359.5,189.6 L360.0,188.8 L360.5,188.1 L361.0,187.4 L361.5,186.9 L362.0,186.4 L362.5,186.0 L363.0,185.6 L363.5,185.4 L364.0,185.2 L364.5,185.1 L365.0,185.0 L365.5,184.9 L366.0,184.9 L366.5,184.9 L367.0,184.9 L367.5,184.9 L368.0,184.9 L368.5,185.0 L369.0,185.1 L369.5,185.3 L370.0,185.6 L370.5,186.0 L371.0,186.5 L371.5,187.1 L372.0,187.8 L372.5,188.6 L373.0,189.4 L373.5,190.4 L374.0,191.3 L374.5,192.3 L375.0,193.3 L375.5,194.3 L376.0,195.2 L376.5,196.1 L377.0,196.9 L377.5,197.7 L378.0,198.5 L378.5,199.2 L379.0,199.8 L379.5,200.4 L380.0,200.9 L380.5,201.3 L381.0,201.8 L381.5,202.1 L382.0,202.5 L382.5,202.8 L383.0,203.1 L383.5,203.3 L384.0,203.5 L384.5,203.7 L385.0,203.9 L385.5,204.1 L386.0,204.3 L386.5,204.5 L387.0,204.7 L387.5,204.9 L388.0,205.1 L388.5,205.2 L389.0,205.4 L389.5,205.6 L390.0,205.8 L390.5,206.0 L391.0,206.2 L391.5,206.4 L392.0,206.6 L392.5,206.7 L393.0,206.9 L393.5,207.0 L394.0,207.2 L394.5,207.3 L395.0,207.4 L395.5,207.5 L396.0,207.6 L396.5,207.7 L397.0,207.8" stroke="#ff0000"/>
<path d="M24.0,229.2 L24.5,229.2 L25.0,229.2 L25.5,229.2 L26.0,229.2 L26.5,229.1 L27.0,229.1 L27.5,229.1 L28.0,229.1 L28.5,229.1 L29.0,229.1 L29.5,229.1 L30.0,229.1 L30.5,229.1 L31.0,229.1 L31.5,229.0 L32.0,229.0 L32.5,229.0 L33.0,229.0 L33.5,229.0 L34.0,229.0 L34.5,229.0 L35.0,229.0 L35.5,228.9 L36.0,228.9 L36.5,228.9 L37.0,228.9 L37.5,228.9 L38.0,228.9 L38.5,228.9 L39.0,228.9 L39.5,228.8 L40.0,228.8 L40.5,228.8 L41.0,228.8 L41.5,228.8 L42.0,228.8 L42.5,228.7 L43.0,228.7 L43.5,228.7 L44.0,228.7 L44.5,228.7 L45.0,228.7 L45.5,228.6 L46.0,228.6 L46.5,228.6 L47.0,228.6 L47.5,228.6 L48.0,228.6 L48.5,228.5 L49.0,228.5 L49.5,228.5 L50.0,228.5 L50.5,228.4 L51.0,228.4 L51.5,228.4 L52.0,228.4 L52.5,228.4 L53.0,228.3 L53.5,228.3 L54.0,228.3 L54.5,228.3 L55.0,228.2 L55.5,228.2 L56.0,228.2 L56.5,228.1 L57.0,228.1 L57.5,228.1 L58.0,228.1 L58.5,228.0 L59.0,228.0 L59.5,228.0 L60.0,227.9 L60.5,227.9 L61.0,227.9 L61.5,227.8 L62.0,227.8 L62.5,227.8 L63.0,227.7 L63.5,227.7 L64.0,227.6 L64.5,227.6 L65.0,227.5 L65.5,227.5 L66.0,227.5 L66.5,227.4 L67.0,227.4 L67.5,227.3 L68.0,227.3 L68.5,227.2 L69.0,227.2 L69.5,227.1 L70.0,227.0 L70.5,227.0 L71.0,226.9 L71.5,226.9 L72.0,226.8 L72.5,226.7 L73.0,226.7 L73.5,226.6 L74.0,226.5 L74.5,226.4 L75.0,226.4 L75.5,226.3 L76.0,226.2 L76.5,226.1 L77.0,226.0 L77.5,225.9 L78.0,225.8 L78.5,225.7 L79.0,225.6 L79.5,225.5 L80.0,225.4 L80.5,225.3 L81.0,225.2 L81.5,225.1 L82.0,224.9 L82.5,224.8 L83.0,224.7 L83.5,224.5 L84.0,224.4 L84.5,224.2 L85.0,224.1 L85.5,223.9 L86.0,223.7 L86.5,223.5 L87.0,223.3 L87.5,223.1 L88.0,222.9 L88.5,222.7 L89.0,222.5 L89.5,222.2 L90.0,222.0 L90.5,221.7 L91.0,221.4 L91.5,221.1 L92.0,220.8 L92.5,220.5 L93.0,220.1 L93.5,219.8 L94.0,219.4 L94.5,218.9 L95.0,218.5 L95.5,218.0 L96.0,217.6 L96.5,217.0 L97.0,216.5 L97.5,215.9 L98.0,215.3 L98.5,214.6 L99.0,213.9 L99.5,213.1 L100.0,212.3 L100.5,211.4 L101.0,210.4 L101.5,209.4 L102.0,208.3 L102.5,207.1 L103.0,205.8 L103.5,204.4 L104.0,202.9 L104.5,201.3 L105.0,199.5 L105.5,197.5 L106.0,195.4 L106.5,193.1 L107.0,190.6 L107.5,187.8 L108.0,184.8 L108.5,181.4 L109.0,177.8 L109.5,173.8 L110.0,169.4 L110.5,164.6 L111.0,159.4 L111.5,153.7 L112.0,147.6 L112.5,141.0 L113.0,134.0 L113.5,126.7 L114.0,119.1 L114.5,111.4 L115.0,103.9 L115.5,96.8 L116.0,90.4 L116.5,85.1 L117.0,81.1 L117.5,78.7 L118.0,78.2 L118.5,79.4 L119.0,82.4 L119.5,86.9 L120.0,92.7 L120.5,99.4 L121.0,106.7 L121.5,114.2 L122.0,121.8 L122.5,129.3 L123.0,136.5 L123.5,143.3 L124.0,149.6 L124.5,155.5 L125.0,161.0 L125.5,166.0 L126.0,170.6 L126.5,174.7 L127.0,178.5 L127.5,182.0 L128.0,185.2 L128.5,188.1 L129.0,190.7 L129.5,193.1 L130.0,195.3 L130.5,197.3 L131.0,199.1 L131.5,200.8 L132.0,202.3 L132.5,203.7 L133.0,205.0 L133.5,206.2 L134.0,207.3 L134.5,208.3 L135.0,209.2 L135.5,210.1 L136.0,210.9 L136.5,211.6 L137.0,212.3 L137.5,212.9 L138.0,213.5 L138.5,214.0 L139.0,214.5 L139.5,214.9 L140.0,215.3 L140.5,215.7 L141.0,216.1 L141.5,216.4 L142.0,216.7 L142.5,216.9 L143.0,217.1 L143.5,217.3 L144.0,217.5 L144.5,217.7 L145.0,217.8 L145.5,217.9 L146.0,218.0 L146.5,218.0 L147.0,218.0 L147.5,218.0 L148.0,218.0 L148.5,218.0 L149.0,217.9 L149.5,217.9 L150.0,217.8 L150.5,217.7 L151.0,217.6 L151.5,217.6 L152.0,217.5 L152.5,217.4 L153.0,217.3 L153.5,217.2 L154.0,217.1 L154.5,217.0 L155.0,216.9 L155.5,216.7 L156.0,216.6 L156.5,216.3 L157.0,216.1 L157.5,215.8 L158.0,215.4 L158.5,215.1 L159.0,214.6 L159.5,214.1 L160.0,213.6 L160.5,213.0 L161.0,212.4 L161.5,211.8 L162.0,211.1 L162.5,210.4 L163.0,209.7 L163.5,208.9 L164.0,208.2 L164.5,207.5 L165.0,206.8 L165.5,206.1 L166.0,205.5 L166.5,204.9 L167.0,204.4 L167.5,203.9 L168.0,203.4 L168.5,202.9 L169.0,202.5 L169.5,202.1 L170.0,201.6 L170.5,201.2 L171.0,200.7 L171.5,200.2 L172.0,199.5 L172.5,198.8 L173.0,197.9 L173.5,196.9 L174.0,195.7 L174.5,194.4 L175.0,192.8 L175.5,191.0 L176.0,189.0 L176.5,186.7 L177.0,184.3 L177.5,181.5 L178.0,178.6 L178.5,175.4 L179.0,172.2 L179.5,168.8 L180.0,165.3 L180.5,162.0 L181.0,158.7 L181.5,155.7 L182.0,153.1 L182.5,150.8 L183.0,149.0 L183.5,147.7 L184.0,147.0 L184.5,146.9 L185.0,147.3 L185.5,148.2 L186.0,149.6 L186.5,151.5 L187.0,153.7 L187.5,156.2 L188.0,159.0 L188.5,161.9 L189.0,165.0 L189.5,168.0 L190.0,171.1 L190.5,174.2 L191.0,177.2 L191.5,180.2 L192.0,183.1 L192.5,185.8 L193.0,188.4 L193.5,190.9 L194.0,193.3 L194.5,195.5 L195.0,197.6 L195.5,199.6 L196.0,201.5 L196.5,203.2 L197.0,204.7 L197.5,206.2 L198.0,207.6 L198.5,208.8 L199.0,210.0 L199.5,211.0 L200.0,212.0 L200.5,212.9 L201.0,213.7 L201.5,214.4 L202.0,215.1 L202.5,215.7 L203.0,216.3 L203.5,216.8 L204.0,217.3 L204.5,217.7 L205.0,218.1 L205.5,218.4 L206.0,218.7 L206.5,219.0 L207.0,219.2 L207.5,219.4 L208.0,219.6 L208.5,219.7 L209.0,219.9 L209.5,220.0 L210.0,220.1 L210.5,220.2 L211.0,220.2 L211.5,220.3 L212.0,220.4 L212.5,220.5 L213.0,220.6 L213.5,220.7 L214.0,220.8 L214.5,220.9 L215.0,221.1 L215.5,221.2 L216.0,221.4 L216.5,221.6 L217.0,221.7 L217.5,221.9 L218.0,222.0 L218.5,222.2 L219.0,222.3 L219.5,222.4 L220.0,222.6 L220.5,222.7 L221.0,222.8 L221.5,222.8 L222.0,222.9 L222.5,223.0 L223.0,223.0 L223.5,223.1 L224.0,223.1 L224.5,223.2 L225.0,223.2 L225.5,223.2 L226.0,223.2 L226.5,223.3 L227.0,223.3 L227.5,223.3 L228.0,223.3 L228.5,223.3 L229.0,223.2 L229.5,223.2 L230.0,223.2 L230.5,223.1 L231.0,223.1 L231.5,223.0 L232.0,222.9 L232.5,222.8 L233.0,222.7 L233.5,222.5 L234.0,222.4 L234.5,222.2 L235.0,222.1 L235.5,221.9 L236.0,221.7 L236.5,221.5 L237.0,221.3 L237.5,221.2 L238.0,221.0 L238.5,220.8 L239.0,220.7 L239.5,220.5 L240.0,220.4 L240.5,220.3 L241.0,220.2 L241.5,220.1 L242.0,220.0 L242.5,220.0 L243.0,220.0 L243.5,220.0 L244.0,220.1 L244.5,220.2 L245.0,220.3 L245.5,220.4 L246.0,220.5 L246.5,220.7 L247.0,220.9 L247.5,221.2 L248.0,221.4 L248.5,221.7 L249.0,221.9 L249.5,222.2 L250.0,222.5 L250.5,222.8 L251.0,223.1 L251.5,223.3 L252.0,223.6 L252.5,223.8 L253.0,224.1 L253.5,224.3 L254.0,224.5 L254.5,224.7 L255.0,224.8 L255.5,225.0 L256.0,225.1 L256.5,225.2 L257.0,225.3 L257.5,225.4 L258.0,225.4 L258.5,225.5 L259.0,225.5 L259.5,225.5 L260.0,225.5 L260.5,225.5 L261.0,225.4 L261.5,225.4 L262.0,225.3 L262.5,225.2 L263.0,225.1 L263.5,225.0 L264.0,224.8 L264.5,224.6 L265.0,224.5 L265.5,224.3 L266.0,224.1 L266.5,223.9 L267.0,223.7 L267.5,223.5 L268.0,223.3 L268.5,223.2 L269.0,223.0 L269.5,223.0 L270.0,222.9 L270.5,222.9 L271.0,222.9 L271.5,222.9 L272.0,223.0 L272.5,223.0 L273.0,223.1 L273.5,223.2 L274.0,223.2 L274.5,223.3 L275.0,223.3 L275.5,223.3 L276.0,223.3 L276.5,223.3 L277.0,223.2 L277.5,223.1 L278.0,223.1 L278.5,222.9 L279.0,222.8 L279.5,222.7 L280.0,222.6 L280.5,222.5 L281.0,222.5 L281.5,222.5 L282.0,222.5 L282.5,222.5 L283.0,222.6 L283.5,222.8 L284.0,222.9 L284.5,223.1 L285.0,223.3 L285.5,223.6 L286.0,223.8 L286.5,224.1 L287.0,224.3 L287.5,224.6 L288.0,224.8 L288.5,225.0 L289.0,225.2 L289.5,225.4 L290.0,225.5 L290.5,225.7 L291.0,225.8 L291.5,225.9 L292.0,226.0 L292.5,226.1 L293.0,226.1 L293.5,226.1 L294.0,226.2 L294.5,226.2 L295.0,226.2 L295.5,226.1 L296.0,226.1 L296.5,226.0 L297.0,226.0 L297.5,225.9 L298.0,225.8 L298.5,225.7 L299.0,225.6 L299.5,225.5 L300.0,225.4 L300.5,225.3 L301.0,225.2 L301.5,225.1 L302.0,225.0 L302.5,225.0 L303.0,225.0 L303.5,225.0 L304.0,225.1 L304.5,225.1 L305.0,225.2 L305.5,225.3 L306.0,225.4 L306.5,225.5 L307.0,225.6 L307.5,225.8 L308.0,225.9 L308.5,226.0 L309.0,226.1 L309.5,226.2 L310.0,226.3 L310.5,226.3 L311.0,226.4 L311.5,226.4 L312.0,226.5 L312.5,226.5 L313.0,226.5 L313.5,226.5 L314.0,226.4 L314.5,226.4 L315.0,226.4 L315.5,226.3 L316.0,226.2 L316.5,226.1 L317.0,226.0 L317.5,225.9 L318.0,225.8 L318.5,225.6 L319.0,225.4 L319.5,225.3 L320.0,225.1 L320.5,224.9 L321.0,224.6 L321.5,224.4 L322.0,224.2 L322.5,224.0 L323.0,223.8 L323.5,223.6 L324.0,223.4 L324.5,223.2 L325.0,223.0 L325.5,222.9 L326.0,222.8 L326.5,222.7 L327.0,222.6 L327.5,222.5 L328.0,222.4 L328.5,222.4 L329.0,222.3 L329.5,222.3 L330.0,222.3 L330.5,222.3 L331.0,222.4 L331.5,222.4 L332.0,222.5 L332.5,222.5 L333.0,222.6 L333.5,222.7 L334.0,222.7 L334.5,222.8 L335.0,222.9 L335.5,223.0 L336.0,223.1 L336.5,223.2 L337.0,223.3 L337.5,223.4 L338.0,223.5 L338.5,223.6 L339.0,223.7 L339.5,223.8 L340.0,223.9 L340.5,224.0 L341.0,224.1 L341.5,224.1 L342.0,224.2 L342.5,224.2 L343.0,224.2 L343.5,224.2 L344.0,224.2 L344.5,224.2 L345.0,224.1 L345.5,224.1 L346.0,224.0 L346.5,223.9 L347.0,223.7 L347.5,223.6 L348.0,223.4 L348.5,223.2 L349.0,222.9 L349.5,222.7 L350.0,222.4 L350.5,222.1 L351.0,221.8 L351.5,221.4 L352.0,221.1 L352.5,220.7 L353.0,220.2 L353.5,219.8 L354.0,219.2 L354.5,218.7 L355.0,218.1 L355.5,217.4 L356.0,216.7 L356.5,215.9 L357.0,215.0 L357.5,214.0 L358.0,213.0 L358.5,211.9 L359.0,210.6 L359.5,209.4 L360.0,208.0 L360.5,206.6 L361.0,205.1 L361.5,203.7 L362.0,202.3 L362.5,200.9 L363.0,199.6 L363.5,198.5 L364.0,197.5 L364.5,196.7 L365.0,196.2 L365.5,195.9 L366.0,195.9 L366.5,196.2 L367.0,196.7 L367.5,197.4 L368.0,198.4 L368.5,199.5 L369.0,200.7 L369.5,202.0 L370.0,203.4 L370.5,204.8 L371.0,206.1 L371.5,207.4 L372.0,208.7 L372.5,209.8 L373.0,210.9 L373.5,211.9 L374.0,212.7 L374.5,213.6 L375.0,214.3 L375.5,215.0 L376.0,215.6 L376.5,216.2 L377.0,216.7 L377.5,217.3 L378.0,217.8 L378.5,218.3 L379.0,218.8 L379.5,219.3 L380.0,219.8 L380.5,220.3 L381.0,220.8 L381.5,221.2 L382.0,221.7 L382.5,222.1 L383.0,222.5 L383.5,222.8 L384.0,223.2 L384.5,223.5 L385.0,223.8 L385.5,224.1 L386.0,224.3 L386.5,224.5 L387.0,224.7 L387.5,224.9 L388.0,225.0 L388.5,225.2 L389.0,225.3 L389.5,225.4 L390.0,225.5 L390.5,225.6 L391.0,225.6 L391.5,225.7 L392.0,225.8 L392.5,225.8 L393.0,225.8 L393.5,225.9 L394.0,225.9 L394.5,225.9 L395.0,225.9 L395.5,225.9 L396.0,226.0 L396.5,226.0 L397.0,226.0" stroke="#0000ff"/>
<path d="M24.0,248.8 L24.5,248.8 L25.0,248.8 L25.5,248.8 L26.0,248.8 L26.5,248.7 L27.0,248.7 L27.5,248.7 L28.0,248.7 L28.5,248.7 L29.0,248.7 L29.5,248.7 L30.0,248.7 L30.5,248.7 L31.0,248.7 L31.5,248.6 L32.0,248.6 L32.5,248.6 L33.0,248.6 L33.5,248.6 L34.0,248.6 L34.5,248.6 L35.0,248.6 L35.5,248.6 L36.0,248.5 L36.5,248.5 L37.0,248.5 L37.5,248.5 L38.0,248.5 L38.5,248.5 L39.0,248.5 L39.5,248.4 L40.0,248.4 L40.5,248.4 L41.0,248.4 L41.5,248.4 L42.0,248.4 L42.5,248.4 L43.0,248.3 L43.5,248.3 L44.0,248.3 L44.5,248.3 L45.0,248.3 L45.5,248.3 L46.0,248.2 L46.5,248.2 L47.0,248.2 L47.5,248.2 L48.0,248.2 L48.5,248.1 L49.0,248.1 L49.5,248.1 L50.0,248.1 L50.5,248.1 L51.0,248.0 L51.5,248.0 L52.0,248.0 L52.5,248.0 L53.0,247.9 L53.5,247.9 L54.0,247.9 L54.5,247.9 L55.0,247.8 L55.5,247.8 L56.0,247.8 L56.5,247.7 L57.0,247.7 L57.5,247.7 L58.0,247.7 L58.5,247.6 L59.0,247.6 L59.5,247.6 L60.0,247.5 L60.5,247.5 L61.0,247.5 L61.5,247.4 L62.0,247.4 L62.5,247.3 L63.0,247.3 L63.5,247.3 L64.0,247.2 L64.5,247.2 L65.0,247.1 L65.5,247.1 L66.0,247.1 L66.5,247.0 L67.0,247.0 L67.5,246.9 L68.0,246.9 L68.5,246.8 L69.0,246.7 L69.5,246.7 L70.0,246.6 L70.5,246.6 L71.0,246.5 L71.5,246.5 L72.0,246.4 L72.5,246.3 L73.0,246.3 L73.5,246.2 L74.0,246.1 L74.5,246.0 L75.0,246.0 L75.5,245.9 L76.0,245.8 L76.5,245.7 L77.0,245.6 L77.5,245.5 L78.0,245.4 L78.5,245.3 L79.0,245.2 L79.5,245.1 L80.0,245.0 L80.5,244.9 L81.0,244.8 L81.5,244.6 L82.0,244.5 L82.5,244.4 L83.0,244.2 L83.5,244.1 L84.0,243.9 L84.5,243.8 L85.0,243.6 L85.5,243.4 L86.0,243.3 L86.5,243.1 L87.0,242.9 L87.5,242.7 L88.0,242.4 L88.5,242.2 L89.0,242.0 L89.5,241.7 L90.0,241.5 L90.5,241.2 L91.0,240.9 L91.5,240.6 L92.0,240.3 L92.5,239.9 L93.0,239.6 L93.5,239.2 L94.0,238.8 L94.5,238.4 L95.0,237.9 L95.5,237.4 L96.0,236.9 L96.5,236.4 L97.0,235.8 L97.5,235.2 L98.0,234.6 L98.5,233.9 L99.0,233.1 L99.5,232.3 L100.0,231.5 L100.5,230.5 L101.0,229.5 L101.5,228.5 L102.0,227.3 L102.5,226.1 L103.0,224.7 L103.5,223.3 L104.0,221.7 L104.5,220.0 L105.0,218.1 L105.5,216.1 L106.0,213.8 L106.5,211.4 L107.0,208.8 L107.5,205.8 L108.0,202.7 L108.5,199.2 L109.0,195.3 L109.5,191.1 L110.0,186.5 L110.5,181.5 L111.0,176.0 L111.5,170.1 L112.0,163.7 L112.5,156.9 L113.0,149.8 L113.5,142.3 L114.0,134.7 L114.5,127.1 L115.0,119.9 L115.5,113.2 L116.0,107.4 L116.5,102.9 L117.0,99.9 L117.5,98.6 L118.0,99.1 L118.5,101.4 L119.0,105.3 L119.5,110.6 L120.0,116.9 L120.5,124.0 L121.0,131.4 L121.5,139.0 L122.0,146.5 L122.5,153.7 L123.0,160.7 L123.5,167.2 L124.0,173.2 L124.5,178.8 L125.0,184.0 L125.5,188.7 L126.0,193.0 L126.5,197.0 L127.0,200.6 L127.5,203.8 L128.0,206.8 L128.5,209.5 L129.0,212.0 L129.5,214.2 L130.0,216.3 L130.5,218.2 L131.0,219.9 L131.5,221.5 L132.0,222.9 L132.5,224.3 L133.0,225.5 L133.5,226.6 L134.0,227.7 L134.5,228.6 L135.0,229.5 L135.5,230.3 L136.0,231.1 L136.5,231.8 L137.0,232.4 L137.5,233.0 L138.0,233.6 L138.5,234.1 L139.0,234.5 L139.5,234.9 L140.0,235.3 L140.5,235.7 L141.0,236.0 L141.5,236.3 L142.0,236.6 L142.5,236.8 L143.0,237.1 L143.5,237.3 L144.0,237.4 L144.5,237.6 L145.0,237.7 L145.5,237.8 L146.0,237.8 L146.5,237.9 L147.0,237.9 L147.5,237.9 L148.0,237.9 L148.5,237.9 L149.0,237.8 L149.5,237.8 L150.0,237.7 L150.5,237.6 L151.0,237.5 L151.5,237.4 L152.0,237.3 L152.5,237.2 L153.0,237.1 L153.5,237.0 L154.0,236.9 L154.5,236.8 L155.0,236.6 L155.5,236.5 L156.0,236.2 L156.5,236.0 L157.0,235.7 L157.5,235.4 L158.0,235.0 L158.5,234.6 L159.0,234.1 L159.5,233.6 L160.0,233.1 L160.5,232.5 L161.0,231.8 L161.5,231.1 L162.0,230.4 L162.5,229.7 L163.0,229.0 L163.5,228.2 L164.0,227.5 L164.5,226.8 L165.0,226.1 L165.5,225.4 L166.0,224.8 L166.5,224.2 L167.0,223.6 L167.5,223.0 L168.0,222.4 L168.5,221.9 L169.0,221.3 L169.5,220.7 L170.0,220.1 L170.5,219.5 L171.0,218.8 L171.5,218.1 L172.0,217.3 L172.5,216.4 L173.0,215.4 L173.5,214.3 L174.0,213.1 L174.5,211.7 L175.0,210.3 L175.5,208.6 L176.0,206.9 L176.5,204.9 L177.0,202.9 L177.5,200.6 L178.0,198.3 L178.5,195.8 L179.0,193.2 L179.5,190.5 L180.0,187.8 L180.5,185.1 L181.0,182.4 L181.5,179.9 L182.0,177.5 L182.5,175.4 L183.0,173.6 L183.5,172.1 L184.0,171.2 L184.5,170.7 L185.0,170.8 L185.5,171.4 L186.0,172.6 L186.5,174.3 L187.0,176.5 L187.5,179.0 L188.0,181.9 L188.5,185.1 L189.0,188.4 L189.5,191.7 L190.0,195.2 L190.5,198.5 L191.0,201.8 L191.5,204.9 L192.0,207.9 L192.5,210.7 L193.0,213.2 L193.5,215.6 L194.0,217.8 L194.5,219.9 L195.0,221.7 L195.5,223.4 L196.0,224.9 L196.5,226.3 L197.0,227.6 L197.5,228.7 L198.0,229.8 L198.5,230.7 L199.0,231.6 L199.5,232.3 L200.0,233.0 L200.5,233.7 L201.0,234.2 L201.5,234.7 L202.0,235.2 L202.5,235.6 L203.0,236.0 L203.5,236.4 L204.0,236.7 L204.5,237.0 L205.0,237.3 L205.5,237.6 L206.0,237.9 L206.5,238.1 L207.0,238.4 L207.5,238.6 L208.0,238.9 L208.5,239.1 L209.0,239.3 L209.5,239.5 L210.0,239.8 L210.5,240.0 L211.0,240.2 L211.5,240.4 L212.0,240.5 L212.5,240.7 L213.0,240.9 L213.5,241.1 L214.0,241.3 L214.5,241.5 L215.0,241.6 L215.5,241.8 L216.0,242.0 L216.5,242.1 L217.0,242.3 L217.5,242.4 L218.0,242.6 L218.5,242.7 L219.0,242.8 L219.5,242.8 L220.0,242.9 L220.5,242.9 L221.0,243.0 L221.5,243.0 L222.0,242.9 L222.5,242.9 L223.0,242.8 L223.5,242.7 L224.0,242.6 L224.5,242.5 L225.0,242.4 L225.5,242.2 L226.0,242.1 L226.5,241.9 L227.0,241.7 L227.5,241.5 L228.0,241.4 L228.5,241.2 L229.0,241.1 L229.5,240.9 L230.0,240.8 L230.5,240.7 L231.0,240.6 L231.5,240.6 L232.0,240.6 L232.5,240.6 L233.0,240.6 L233.5,240.7 L234.0,240.8 L234.5,240.9 L235.0,241.0 L235.5,241.1 L236.0,241.3 L236.5,241.4 L237.0,241.6 L237.5,241.8 L238.0,241.9 L238.5,242.1 L239.0,242.3 L239.5,242.4 L240.0,242.6 L240.5,242.7 L241.0,242.8 L241.5,242.9 L242.0,243.0 L242.5,243.1 L243.0,243.2 L243.5,243.3 L244.0,243.3 L244.5,243.3 L245.0,243.3 L245.5,243.3 L246.0,243.2 L246.5,243.2 L247.0,243.1 L247.5,243.0 L248.0,242.9 L248.5,242.8 L249.0,242.6 L249.5,242.5 L250.0,242.4 L250.5,242.2 L251.0,242.1 L251.5,242.0 L252.0,241.8 L252.5,241.7 L253.0,241.7 L253.5,241.6 L254.0,241.5 L254.5,241.5 L255.0,241.5 L255.5,241.5 L256.0,241.6 L256.5,241.6 L257.0,241.7 L257.5,241.8 L258.0,242.0 L258.5,242.1 L259.0,242.3 L259.5,242.4 L260.0,242.6 L260.5,242.8 L261.0,243.0 L261.5,243.2 L262.0,243.3 L262.5,243.5 L263.0,243.7 L263.5,243.9 L264.0,244.0 L264.5,244.2 L265.0,244.3 L265.5,244.5 L266.0,244.6 L266.5,244.7 L267.0,244.7 L267.5,244.8 L268.0,244.9 L268.5,244.9 L269.0,244.9 L269.5,244.9 L270.0,244.9 L270.5,244.9 L271.0,244.9 L271.5,244.8 L272.0,244.7 L272.5,244.7 L273.0,244.6 L273.5,244.5 L274.0,244.4 L274.5,244.4 L275.0,244.3 L275.5,244.2 L276.0,244.1 L276.5,244.0 L277.0,243.9 L277.5,243.8 L278.0,243.7 L278.5,243.6 L279.0,243.5 L279.5,243.4 L280.0,243.4 L280.5,243.3 L281.0,243.2 L281.5,243.2 L282.0,243.1 L282.5,243.1 L283.0,243.1 L283.5,243.1 L284.0,243.1 L284.5,243.1 L285.0,243.2 L285.5,243.2 L286.0,243.3 L286.5,243.4 L287.0,243.5 L287.5,243.6 L288.0,243.7 L288.5,243.8 L289.0,243.9 L289.5,244.1 L290.0,244.2 L290.5,244.4 L291.0,244.5 L291.5,244.6 L292.0,244.8 L292.5,244.9 L293.0,245.0 L293.5,245.1 L294.0,245.3 L294.5,245.4 L295.0,245.5 L295.5,245.5 L296.0,245.6 L296.5,245.7 L297.0,245.7 L297.5,245.8 L298.0,245.8 L298.5,245.9 L299.0,245.9 L299.5,246.0 L300.0,246.0 L300.5,246.0 L301.0,246.1 L301.5,246.1 L302.0,246.1 L302.5,246.1 L303.0,246.1 L303.5,246.1 L304.0,246.1 L304.5,246.1 L305.0,246.1 L305.5,246.1 L306.0,246.1 L306.5,246.0 L307.0,246.0 L307.5,245.9 L308.0,245.8 L308.5,245.7 L309.0,245.6 L309.5,245.5 L310.0,245.4 L310.5,245.2 L311.0,245.1 L311.5,244.9 L312.0,244.7 L312.5,244.5 L313.0,244.3 L313.5,244.1 L314.0,243.8 L314.5,243.6 L315.0,243.4 L315.5,243.2 L316.0,243.0 L316.5,242.9 L317.0,242.7 L317.5,242.6 L318.0,242.5 L318.5,242.5 L319.0,242.4 L319.5,242.4 L320.0,242.5 L320.5,242.5 L321.0,242.6 L321.5,242.7 L322.0,242.9 L322.5,243.0 L323.0,243.2 L323.5,243.4 L324.0,243.6 L324.5,243.8 L325.0,244.0 L325.5,244.2 L326.0,244.4 L326.5,244.6 L327.0,244.8 L327.5,244.9 L328.0,245.1 L328.5,245.2 L329.0,245.3 L329.5,245.4 L330.0,245.4 L330.5,245.5 L331.0,245.5 L331.5,245.6 L332.0,245.6 L332.5,245.6 L333.0,245.6 L333.5,245.6 L334.0,245.5 L334.5,245.5 L335.0,245.4 L335.5,245.3 L336.0,245.3 L336.5,245.2 L337.0,245.0 L337.5,244.9 L338.0,244.8 L338.5,244.6 L339.0,244.4 L339.5,244.2 L340.0,244.0 L340.5,243.7 L341.0,243.5 L341.5,243.2 L342.0,242.9 L342.5,242.5 L343.0,242.2 L343.5,241.8 L344.0,241.4 L344.5,241.0 L345.0,240.6 L345.5,240.1 L346.0,239.7 L346.5,239.3 L347.0,238.9 L347.5,238.5 L348.0,238.1 L348.5,237.8 L349.0,237.5 L349.5,237.2 L350.0,237.0 L350.5,236.7 L351.0,236.5 L351.5,236.3 L352.0,236.1 L352.5,235.9 L353.0,235.7 L353.5,235.5 L354.0,235.3 L354.5,235.1 L355.0,234.8 L355.5,234.4 L356.0,234.1 L356.5,233.6 L357.0,233.1 L357.5,232.5 L358.0,231.8 L358.5,231.0 L359.0,230.2 L359.5,229.2 L360.0,228.2 L360.5,227.2 L361.0,226.1 L361.5,224.9 L362.0,223.8 L362.5,222.7 L363.0,221.6 L363.5,220.6 L364.0,219.6 L364.5,218.8 L365.0,218.2 L365.5,217.7 L366.0,217.4 L366.5,217.3 L367.0,217.3 L367.5,217.6 L368.0,218.1 L368.5,218.8 L369.0,219.7 L369.5,220.7 L370.0,221.8 L370.5,223.1 L371.0,224.4 L371.5,225.7 L372.0,227.1 L372.5,228.4 L373.0,229.7 L373.5,231.0 L374.0,232.2 L374.5,233.4 L375.0,234.5 L375.5,235.5 L376.0,236.4 L376.5,237.2 L377.0,238.0 L377.5,238.7 L378.0,239.4 L378.5,240.0 L379.0,240.5 L379.5,241.0 L380.0,241.5 L380.5,241.9 L381.0,242.2 L381.5,242.6 L382.0,242.9 L382.5,243.1 L383.0,243.4 L383.5,243.6 L384.0,243.8 L384.5,243.9 L385.0,244.1 L385.5,244.2 L386.0,244.3 L386.5,244.5 L387.0,244.6 L387.5,244.7 L388.0,244.8 L388.5,244.9 L389.0,245.1 L389.5,245.2 L390.0,245.3 L390.5,245.5 L391.0,245.6 L391.5,245.8 L392.0,246.0 L392.5,246.1 L393.0,246.3 L393.5,246.4 L394.0,246.5 L394.5,246.7 L395.0,246.8 L395.5,246.9 L396.0,247.0 L396.5,247.1 L397.0,247.2" stroke="#000000"/>
</g>
<g stroke="#000" stroke-width="1.5">
<line x1="117.5" y1="249.4" x2="117.5" y2="100.0"/>
<line x1="165.4" y1="249.4" x2="165.4" y2="242.1"/>
<line x1="170.9" y1="249.4" x2="170.9" y2="245.9"/>
<line x1="172.6" y1="249.4" x2="172.6" y2="244.6"/>
<line x1="179.6" y1="249.4" x2="179.6" y2="235.9"/>
<line x1="185.7" y1="249.4" x2="185.7" y2="218.8"/>
<line x1="188.2" y1="249.4" x2="188.2" y2="247.0"/>
<line x1="211.5" y1="249.4" x2="211.5" y2="247.0"/>
<line x1="230.8" y1="249.4" x2="230.8" y2="247.0"/>
<line x1="252.6" y1="249.4" x2="252.6" y2="247.0"/>
<line x1="275.2" y1="249.4" x2="275.2" y2="247.0"/>
<line x1="285.9" y1="249.4" x2="285.9" y2="247.0"/>
<line x1="318.0" y1="249.4" x2="318.0" y2="246.0"/>
<line x1="323.5" y1="249.4" x2="323.5" y2="247.5"/>
<line x1="348.6" y1="249.4" x2="348.6" y2="245.2"/>
<line x1="353.6" y1="249.4" x2="353.6" y2="247.0"/>
<line x1="366.1" y1="249.4" x2="366.1" y2="224.6"/>
<line x1="368.1" y1="249.4" x2="368.1" y2="243.9"/>
</g>
<g stroke="#000" stroke-width="1.5">
<line x1="48.4" y1="249.4" x2="48.4" y2="244.6"/>
<line x1="48.4" y1="13.5" x2="48.4" y2="18.6"/>
<line x1="110.5" y1="249.4" x2="110.5" y2="244.6"/>
<line x1="110.5" y1="13.5" x2="110.5" y2="18.6"/>
<line x1="172.6" y1="249.4" x2="172.6" y2="244.6"/>
<line x1="172.6" y1="13.5" x2="172.6" y2="18.6"/>
<line x1="234.8" y1="249.4" x2="234.8" y2="244.6"/>
<line x1="234.8" y1="13.5" x2="234.8" y2="18.6"/>
<line x1="296.9" y1="249.4" x2="296.9" y2="244.6"/>
<line x1="296.9" y1="13.5" x2="296.9" y2="18.6"/>
<line x1="359.0" y1="249.4" x2="359.0" y2="244.6"/>
<line x1="359.0" y1="13.5" x2="359.0" y2="18.6"/>
</g>
<rect x="23.5" y="13.9" width="372.5" height="235.65" fill="none" stroke="#000" stroke-width="2"/>
<g font-family="'Liberation Serif', serif" font-size="14.4" fill="#000" opacity="0.97">
<text x="47.8" y="266.2" text-anchor="middle">1</text>
<text x="109.9" y="266.2" text-anchor="middle" letter-spacing="0.2">1.5</text>
<text x="172.0" y="266.2" text-anchor="middle">2</text>
<text x="234.2" y="266.2" text-anchor="middle" letter-spacing="0.2">2.5</text>
<text x="296.3" y="266.2" text-anchor="middle">3</text>
<text x="358.4" y="266.2" text-anchor="middle" letter-spacing="0.2">3.5</text>
<text x="169.90" y="284.7" textLength="44.50" lengthAdjust="spacingAndGlyphs">Energy</text>
<text x="221.30" y="284.7" textLength="27.30" lengthAdjust="spacingAndGlyphs">(eV)</text>
<text transform="translate(14.6,187.20) rotate(-90)" textLength="69.30" lengthAdjust="spacingAndGlyphs">Absorption</text>
<text transform="translate(14.6,110.40) rotate(-90)" textLength="35.00" lengthAdjust="spacingAndGlyphs">(a.u.)</text>
<text x="343.8" y="28.8" text-anchor="end">16</text>
<text x="343.8" y="41.9" text-anchor="end">24</text>
<text x="343.8" y="54.9" text-anchor="end">32</text>
<text x="343.8" y="68.0" text-anchor="end">48</text>
<text x="343.8" y="81.0" text-anchor="end">64</text>
</g>
<g stroke-width="1.6">
<line x1="351.8" y1="25.80" x2="383.3" y2="25.80" stroke="#00ffff"/>
<line x1="351.8" y1="38.85" x2="383.3" y2="38.85" stroke="#00a000"/>
<line x1="351.8" y1="51.90" x2="383.3" y2="51.90" stroke="#ff0000"/>
<line x1="351.8" y1="64.95" x2="383.3" y2="64.95" stroke="#0000ff"/>
<line x1="351.8" y1="78.00" x2="383.3" y2="78.00" stroke="#000000"/>
</g>
</svg>
</body></html>
